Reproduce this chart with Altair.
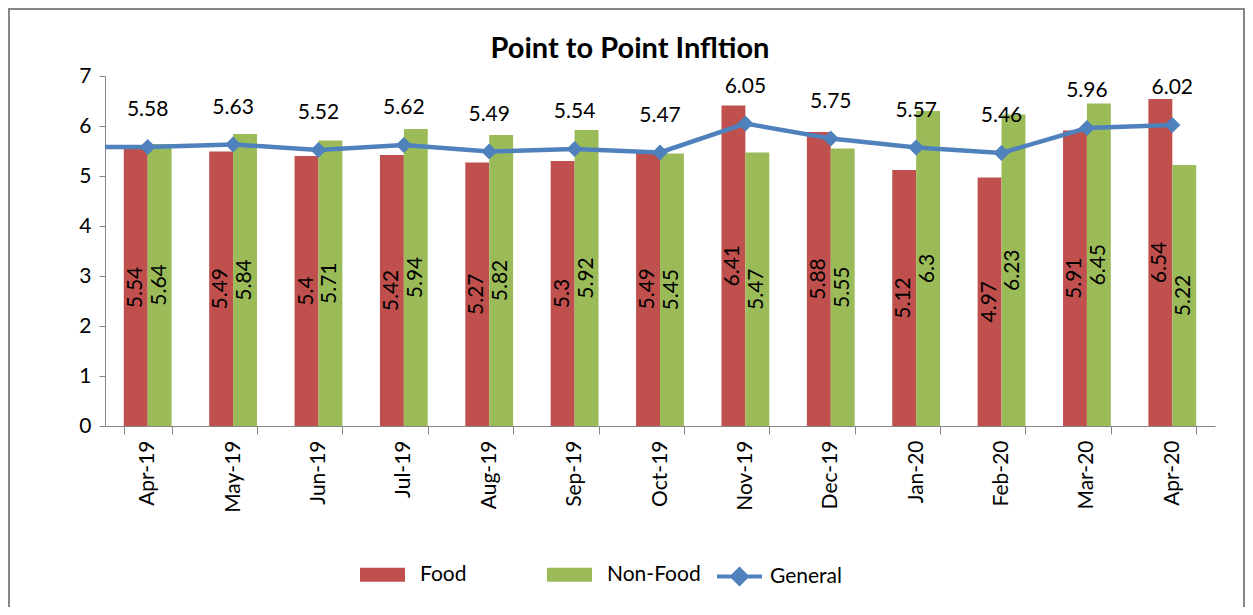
import altair as alt
import pandas as pd

months = ["Apr-19", "May-19", "Jun-19", "Jul-19", "Aug-19", "Sep-19", "Oct-19",
          "Nov-19", "Dec-19", "Jan-20", "Feb-20", "Mar-20", "Apr-20"]
food = [5.54, 5.49, 5.4, 5.42, 5.27, 5.3, 5.49, 6.41, 5.88, 5.12, 4.97, 5.91, 6.54]
nonfood = [5.64, 5.84, 5.71, 5.94, 5.82, 5.92, 5.45, 5.47, 5.55, 6.3, 6.23, 6.45, 5.22]
general = [5.58, 5.63, 5.52, 5.62, 5.49, 5.54, 5.47, 6.05, 5.75, 5.57, 5.46, 5.96, 6.02]
series_names = ["Food", "Non-Food"]
bar_colors = ["#C0504D", "#9BBB59"]
line_color = "#4F81BD"
y_ticks = [0, 1, 2, 3, 4, 5, 6, 7]
title_text = ["Point to Point Infltion"]

rows = []
for i, m in enumerate(months):
    rows.append({"month": m, "series": "Food", "value": food[i]})
    rows.append({"month": m, "series": "Non-Food", "value": nonfood[i]})
bars_df = pd.DataFrame(rows)
gen_df = pd.DataFrame({"month": months, "value": general, "series": ["General"] * len(months)})
title_df = pd.DataFrame({"t": title_text})

FONT = "Lato"
W, H = 1110, 350

xenc = alt.X("month:N", sort=months,
             scale=alt.Scale(paddingInner=0.44, paddingOuter=0.22),
             axis=alt.Axis(title=None, labelAngle=270, labelAlign="right", labelBaseline="middle",
                           labelFontSize=21, labelFont=FONT, labelPadding=6, tickBand="extent",
                           tickSize=8, domainColor="#868686", tickColor="#868686",
                           labelColor="black", grid=False))
yscale = alt.Scale(domain=[0, 7], nice=False)

bars = alt.Chart(bars_df).mark_bar().encode(
    x=xenc,
    xOffset=alt.XOffset("series:N", sort=series_names, scale=alt.Scale(paddingInner=0, paddingOuter=0)),
    y=alt.Y("value:Q", scale=yscale,
            axis=alt.Axis(title=None, values=y_ticks, grid=False, labelFontSize=21, labelFont=FONT,
                          labelPadding=8, tickSize=6, domainColor="#868686",
                          tickColor="#868686", labelColor="black")),
    fill=alt.Fill("series:N", sort=series_names,
                  scale=alt.Scale(domain=series_names, range=bar_colors),
                  legend=alt.Legend(title=None, orient="none", legendX=255, legendY=476,
                                    direction="horizontal", symbolType="M-1,-0.31H1V0.31H-1Z",
                                    symbolSize=2025, symbolStrokeWidth=0, labelOffset=15,
                                    columnPadding=80, labelFontSize=21, labelFont=FONT,
                                    labelColor="black")),
)

bar_labels = alt.Chart(bars_df).transform_calculate(half="datum.value / 2").mark_text(
    angle=270, align="center", baseline="middle", fontSize=21, font=FONT, color="black"
).encode(
    x=alt.X("month:N", sort=months),
    xOffset=alt.XOffset("series:N", sort=series_names),
    y=alt.Y("half:Q"),
    text=alt.Text("value:Q"),
)

# short lead-in segment from the value axis to the first General point (as in the source)
lead = alt.Chart(gen_df).transform_filter("datum.month == 'Apr-19'").mark_rule(
    strokeWidth=4.5, color=line_color
).encode(
    x=alt.X("month:N", sort=months),
    x2=alt.value(0),
    y=alt.Y("value:Q"),
)

line = alt.Chart(gen_df).mark_line(strokeWidth=4.5).encode(
    x=alt.X("month:N", sort=months),
    y=alt.Y("value:Q"),
    stroke=alt.Stroke("series:N", scale=alt.Scale(domain=["General"], range=[line_color]),
                      legend=alt.Legend(title=None, orient="none", legendX=610, legendY=476,
                                        symbolType="M-1,0H1M-0.32,0L0,-0.32L0.32,0L0,0.32Z",
                                        symbolSize=2025, symbolStrokeWidth=4,
                                        symbolFillColor=line_color, labelOffset=6,
                                        labelFontSize=21, labelFont=FONT, labelColor="black")),
)

points = alt.Chart(gen_df).mark_point(shape="diamond", filled=True, size=260, opacity=1,
                                      color=line_color).encode(
    x=alt.X("month:N", sort=months),
    y=alt.Y("value:Q"),
)

gen_labels = alt.Chart(gen_df).mark_text(baseline="middle", align="center", dy=-37,
                                         fontSize=21, font=FONT, color="black").encode(
    x=alt.X("month:N", sort=months),
    y=alt.Y("value:Q"),
    text=alt.Text("value:Q"),
)

frame = alt.Chart(gen_df).mark_rect(fill="transparent", stroke="#868686", strokeWidth=2).encode(
    x=alt.value(-96), x2=alt.value(W + 30 - 1), y=alt.value(-67), y2=alt.value(H + 200)
).transform_filter("datum.month == 'Apr-19'")

title = alt.Chart(title_df).mark_text(fontSize=29, font=FONT, fontWeight="bold", color="black",
                                      align="center", baseline="alphabetic").encode(
    x=alt.value(525), y=alt.value(-18), text="t:N"
)

chart = alt.layer(frame, bars, bar_labels, lead, line, points, gen_labels, title).properties(
    width=W, height=H,
    background="white",
    view=alt.ViewBackground(strokeWidth=0, strokeOpacity=0),
    autosize=alt.AutoSizeParams(type="none"),
    padding={"left": 97, "top": 68, "right": 30, "bottom": 181},
).configure_view(strokeWidth=0, strokeOpacity=0).configure_axis(grid=False)

chart.save("out.html", embed_options={"renderer": "svg", "actions": False})
